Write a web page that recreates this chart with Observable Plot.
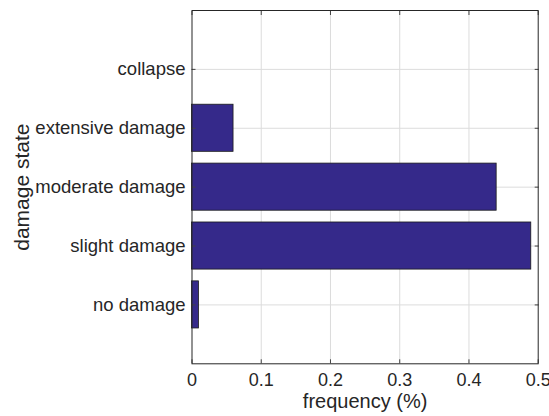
<!DOCTYPE html>
<html>
<head>
<meta charset="utf-8">
<script src="https://cdn.jsdelivr.net/npm/d3@7"></script>
<script src="https://cdn.jsdelivr.net/npm/@observablehq/plot@0.6"></script>
<style>
  html, body { margin: 0; padding: 0; background: #ffffff; }
  #chart svg { display: block; }
</style>
</head>
<body>
<div id="chart"></div>
<script>
// Data
const states = ["no damage", "slight damage", "moderate damage", "extensive damage", "collapse"];
const frequencies = [0.01, 0.49, 0.44, 0.06, 0];
const xTicks = [0, 0.1, 0.2, 0.3, 0.4, 0.5];
const xTickLabels = ["0", "0.1", "0.2", "0.3", "0.4", "0.5"];
const yPositions = [1, 2, 3, 4, 5];
const xLabel = "frequency (%)";
const yLabel = "damage state";

const rows = states.map((s, i) => ({state: s, pos: yPositions[i], f: frequencies[i]}));
const barHalf = 0.4;
const textColor = "#262626";
const font = "'Liberation Sans', Arial, Helvetica, sans-serif";

const chart = Plot.plot({
  width: 549,
  height: 416,
  marginLeft: 191.5,
  marginRight: 11.3,
  marginTop: 10,
  marginBottom: 52.7,
  style: {fontFamily: font, fontSize: "18px", color: textColor, background: "#ffffff"},
  x: {domain: [0, 0.5], axis: null},
  y: {domain: [0, 6], axis: null},
  marks: [
    Plot.gridX(xTicks.slice(1, -1), {stroke: "#dcdcdc", strokeOpacity: 1}),
    Plot.gridY(yPositions, {stroke: "#dcdcdc", strokeOpacity: 1}),
    Plot.rectX(rows, {
      x1: 0,
      x2: "f",
      y1: d => d.pos - barHalf,
      y2: d => d.pos + barHalf,
      fill: "#35298a",
      stroke: "#1a1a1a",
      strokeWidth: 0.8
    }),
    // inward tick marks
    Plot.axisX(xTicks, {anchor: "bottom", tickSize: -4, tickFormat: () => "", label: null, stroke: "#444"}),
    Plot.axisX(xTicks, {anchor: "top", tickSize: -4, tickFormat: () => "", label: null, stroke: "#444"}),
    Plot.axisY(yPositions, {anchor: "left", tickSize: -4, tickFormat: () => "", label: null, stroke: "#444"}),
    Plot.axisY(yPositions, {anchor: "right", tickSize: -4, tickFormat: () => "", label: null, stroke: "#444"}),
    // tick labels
    Plot.axisX(xTicks, {
      anchor: "bottom", tickSize: 0, tickPadding: 9.5, label: null,
      tickFormat: (d) => xTickLabels[xTicks.indexOf(d)],
      fill: textColor, fontSize: 18
    }),
    Plot.axisY(yPositions, {
      anchor: "left", tickSize: 0, tickPadding: 6.5, label: null,
      tickFormat: (d) => states[yPositions.indexOf(d)],
      fill: textColor, fontSize: 18.5
    }),
    Plot.frame({stroke: "#262626", strokeWidth: 1}),
    // axis titles
    Plot.text([xLabel], {
      frameAnchor: "bottom", dy: 38, text: d => d,
      textAnchor: "middle", lineAnchor: "middle",
      fontSize: 20, fill: textColor
    }),
    Plot.text([yLabel], {
      frameAnchor: "left", dx: -170, rotate: -90, text: d => d,
      textAnchor: "middle", lineAnchor: "middle",
      fontSize: 21, fill: textColor
    })
  ]
});

document.getElementById("chart").appendChild(chart);
</script>
</body>
</html>
